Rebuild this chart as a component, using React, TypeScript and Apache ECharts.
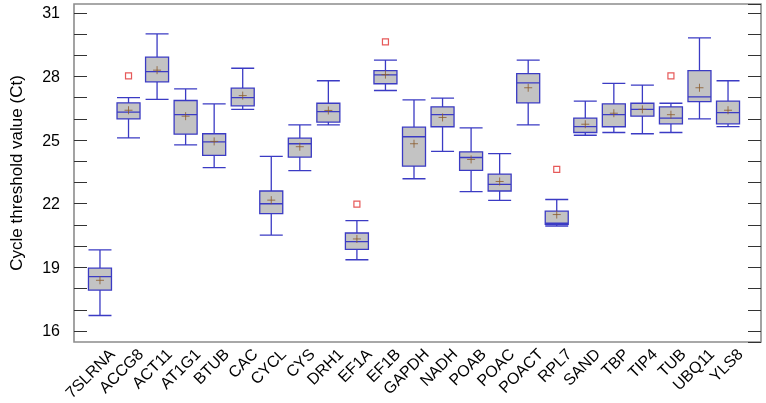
import React, { useEffect, useRef } from "react";
import * as echarts from "echarts";

const categories = ["7SLRNA","ACCG8","ACT11","AT1G1","BTUB","CAC","CYCL","CYS","DRH1","EF1A","EF1B","GAPDH","NADH","POAB","POAC","POACT","RPL7","SAND","TBP","TIP4","TUB","UBQ11","YLS8"];
// [lower whisker, Q1, median, Q3, upper whisker]
const lowWhisker = [16.73,25.11,26.92,24.78,23.70,26.45,20.52,23.56,25.72,19.36,27.34,23.18,24.47,22.57,22.16,25.72,20.95,25.23,25.36,25.30,25.36,26.00,25.64];
const q1 =         [17.93,26.00,27.75,25.28,24.28,26.62,21.53,24.20,25.85,19.85,27.66,23.77,25.63,23.57,22.60,26.76,21.03,25.36,25.63,26.13,25.77,26.82,25.77];
const median =     [18.56,26.32,28.23,26.20,24.92,27.00,22.00,24.83,26.34,20.21,28.08,25.16,26.20,24.18,22.91,27.70,21.08,25.64,26.20,26.45,26.04,27.04,26.30];
const q3 =         [18.96,26.76,28.91,26.87,25.30,27.45,22.60,25.09,26.74,20.62,28.28,25.61,26.57,24.45,23.40,28.14,21.65,26.04,26.71,26.74,26.57,28.28,26.84];
const highWhisker =[19.82,27.00,30.01,27.42,26.71,28.39,24.23,25.72,27.80,21.20,28.77,26.90,26.98,25.58,24.36,28.77,22.20,26.84,27.68,27.59,26.74,29.82,27.80];
const means =      [18.39,26.41,28.30,26.13,24.94,27.10,22.17,24.69,26.40,20.34,28.09,24.83,26.07,24.09,23.05,27.47,21.49,25.75,26.27,26.45,26.20,27.47,26.41];
const outlierCats = ["ACCG8","EF1A","EF1B","RPL7","TUB"];
const outlierVals = [28.03,21.98,29.63,23.62,28.03];

const yMin = 15.48;
const yMax = 31.42;
const FONT = "Liberation Sans";
const LABEL_SHIFT = 12;

export default function App() {
  const ref = useRef<HTMLDivElement>(null);
  useEffect(() => {
    if (!ref.current) return;
    const chart = echarts.init(ref.current, undefined, { renderer: "svg" });
    const boxData = categories.map((_, i) => [lowWhisker[i], q1[i], median[i], q3[i], highWhisker[i]]);
    const meanData = categories.map((c, i) => [c, means[i]]);
    const outData = outlierCats.map((c, i) => [c, outlierVals[i]]);
    chart.setOption({
      animation: false,
      grid: [
        { left: 67, right: 5, top: 4, bottom: 61, show: true, borderColor: "#8c8c8c", borderWidth: 1.6, backgroundColor: "transparent" },
        { left: 85.7, right: 23.7, top: 4, bottom: 61 },
        { left: 85.7 + LABEL_SHIFT, right: 23.7 - LABEL_SHIFT, top: 4, bottom: 61 },
      ],
      xAxis: [
        { type: "value", gridIndex: 0, min: 0, max: 1, show: false },
        { type: "category", gridIndex: 1, data: categories, show: false },
        {
          type: "category", gridIndex: 2, data: categories,
          axisLine: { show: false }, axisTick: { show: false }, splitLine: { show: false },
          axisLabel: { rotate: 45, interval: 0, fontFamily: FONT, fontSize: 16, color: "#000", margin: 13 },
        },
      ],
      yAxis: [
        {
          type: "value", gridIndex: 0, min: yMin, max: yMax, minInterval: 1, maxInterval: 1, splitNumber: 16,
          name: "Cycle threshold value (Ct)", nameLocation: "middle", nameGap: 49,
          nameTextStyle: { fontFamily: FONT, fontSize: 17, color: "#000" },
          axisLine: { show: false },
          axisTick: { show: true, inside: true, length: 13, lineStyle: { color: "#333", width: 1 } },
          axisLabel: {
            fontFamily: FONT, fontSize: 16, color: "#000", margin: 14, showMinLabel: false, showMaxLabel: false,
            formatter: (v: number) => (Math.abs(v - Math.round(v)) < 1e-6 && Math.round(v) % 3 === 1 ? String(Math.round(v)) : ""),
          },
          splitLine: { show: false },
        },
        {
          type: "value", gridIndex: 0, position: "right", min: yMin, max: yMax, minInterval: 1, maxInterval: 1, splitNumber: 16,
          axisLine: { show: false },
          axisTick: { show: true, inside: true, length: 13, lineStyle: { color: "#333", width: 1 } },
          axisLabel: { show: false },
          splitLine: { show: false },
        },
        { type: "value", gridIndex: 1, min: yMin, max: yMax, show: false, splitLine: { show: false } },
        { type: "value", gridIndex: 2, min: 0, max: 1, show: false, splitLine: { show: false } },
      ],
      series: [
        {
          type: "boxplot", xAxisIndex: 1, yAxisIndex: 2, data: boxData, boxWidth: [23, 23],
          itemStyle: { color: "#c3c3c3", borderColor: "#3b3bc4", borderWidth: 1.3 },
        },
        {
          type: "scatter", xAxisIndex: 1, yAxisIndex: 2, data: meanData,
          symbol: "path://M5,0V10M0,5H10", symbolSize: 8,
          itemStyle: { color: "none", borderColor: "#8b5a2b", borderWidth: 1 },
        },
        {
          type: "scatter", xAxisIndex: 1, yAxisIndex: 2, data: outData,
          symbol: "rect", symbolSize: 6,
          itemStyle: { color: "#fff", borderColor: "#e03030", borderWidth: 1.2 },
        },
      ],
    });
    return () => chart.dispose();
  }, []);
  return <div ref={ref} style={{ width: 766, height: 403, position: "fixed", left: 0, top: 0 }} />;
}
